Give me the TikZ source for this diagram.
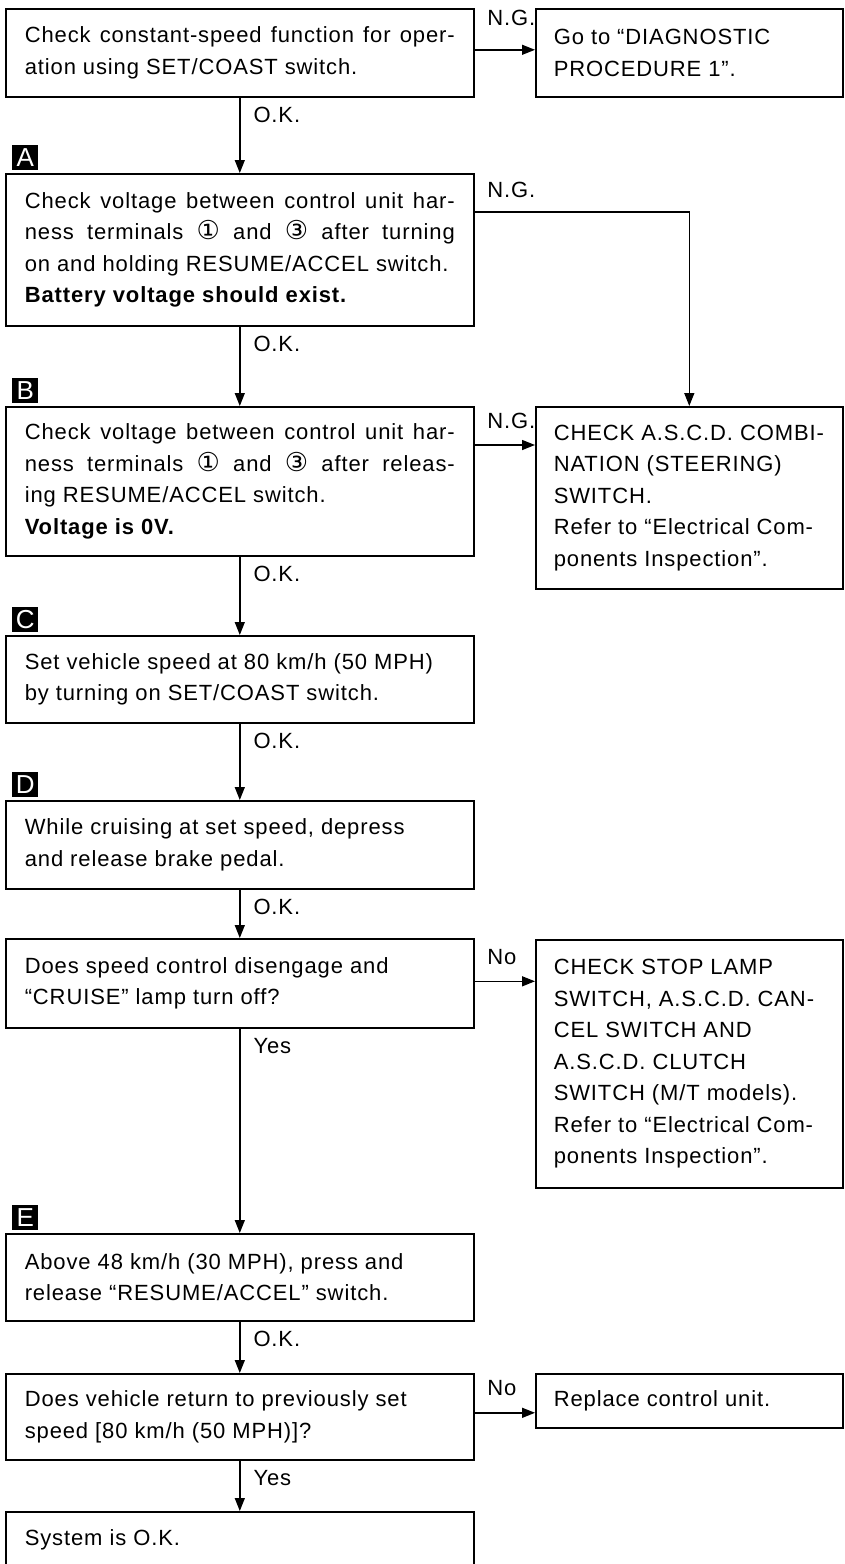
\documentclass[tikz,border=0pt]{standalone}
\usepackage{fontspec}
\usepackage{tikz}
\setmainfont{Liberation Sans}[LetterSpace=4]
\newfontfamily\circfont{DejaVu Sans}
\usetikzlibrary{arrows.meta,positioning}
\hyphenpenalty=10000
\exhyphenpenalty=10000
\newcommand{\term}[1]{{\circfont\fontsize{26}{26}\selectfont #1}}

\tikzset{
  stepbox/.style={draw, line width=1.6pt, align=justify, anchor=north west,
    text width=430pt, inner xsep=19pt, inner ysep=0pt,
    font=\fontsize{22}{31.5}\selectfont},
  sidebox/.style={stepbox, text width=271pt, inner xsep=18pt},
  tag/.style={fill=black, text=white, inner sep=0pt, minimum width=26pt,
    minimum height=25pt, font=\fontsize{26}{26}\selectfont},
  lbl/.style={font=\fontsize{22}{22}\selectfont, inner sep=0pt},
  flow/.style={line width=1.4pt, -{Triangle[length=13pt,width=10pt]}},
}

\begin{document}
\begin{tikzpicture}[x=1pt,y=-1pt]
  \useasboundingbox (0,0) rectangle (845,1564);

  % main column
  \node[stepbox, minimum height=88pt] (chk) at (5,8)
    {Check constant-speed function for oper-\linebreak ation using SET/COAST switch.};
  \node[stepbox, minimum height=152pt] (volton) at (5,173)
    {Check voltage between control unit har-\linebreak ness terminals \term{①} and \term{③} after turning\linebreak
     on and holding RESUME/ACCEL switch.\\ \textbf{Battery voltage should exist.}};
  \node[stepbox, minimum height=149pt] (voltoff) at (5,406)
    {Check voltage between control unit har-\linebreak ness terminals \term{①} and \term{③} after releas-\linebreak
     ing RESUME/ACCEL switch.\\ \textbf{Voltage is 0V.}};
  \node[stepbox, minimum height=87pt] (setspd) at (5,635)
    {Set vehicle speed at 80 km/h (50 MPH)\\ by turning on SET/COAST switch.};
  \node[stepbox, minimum height=88pt] (brake) at (5,800)
    {While cruising at set speed, depress\\ and release brake pedal.};
  \node[stepbox, minimum height=89pt] (disengage) at (5,938)
    {Does speed control disengage and\\ ``CRUISE'' lamp turn off?};
  \node[stepbox, minimum height=87pt] (resume) at (5,1233)
    {Above 48 km/h (30 MPH), press and\\ release ``RESUME/ACCEL'' switch.};
  \node[stepbox, minimum height=86pt] (return) at (5,1373)
    {Does vehicle return to previously set\\ speed [80 km/h (50 MPH)]?};
  \node[stepbox, minimum height=56pt] (sysok) at (5,1511)
    {System is O.K.};

  % side column
  \node[sidebox, minimum height=88pt] (goto) at (535,8)
    {Go to ``DIAGNOSTIC\\ PROCEDURE 1''.};
  \node[sidebox, minimum height=182pt] (ascd) at (535,406)
    {CHECK A.S.C.D. COMBI-\\ NATION (STEERING)\\ SWITCH.\\ Refer to ``Electrical Com-\\ ponents Inspection''.};
  \node[sidebox, minimum height=248pt] (stoplamp) at (535,939)
    {CHECK STOP LAMP\\ SWITCH, A.S.C.D. CAN-\\ CEL SWITCH AND\\ A.S.C.D. CLUTCH\\
     SWITCH (M/T models).\\ Refer to ``Electrical Com-\\ ponents Inspection''.};
  \node[sidebox, minimum height=54pt] (replace) at (535,1373)
    {Replace control unit.};

  % step letters
  \node[tag, above right=3pt and 7pt of volton.north west] (tagA) {A};
  \node[tag, above right=3pt and 7pt of voltoff.north west] (tagB) {B};
  \node[tag, above right=3pt and 7pt of setspd.north west] (tagC) {C};
  \node[tag, above right=3pt and 7pt of brake.north west] (tagD) {D};
  \node[tag, above right=3pt and 7pt of resume.north west] (tagE) {E};

  % down the main column
  \draw[flow] (chk) -- (volton) node[lbl, pos=0, below right=9pt and 13pt] (okchk) {O.K.};
  \draw[flow] (volton) -- (voltoff) node[lbl, pos=0, below right=9pt and 13pt] (okvon) {O.K.};
  \draw[flow] (voltoff) -- (setspd) node[lbl, pos=0, below right=9pt and 13pt] (okvoff) {O.K.};
  \draw[flow] (setspd) -- (brake) node[lbl, pos=0, below right=9pt and 13pt] (okspd) {O.K.};
  \draw[flow] (brake) -- (disengage) node[lbl, pos=0, below right=9pt and 13pt] (okbrake) {O.K.};
  \draw[flow] (disengage) -- (resume) node[lbl, pos=0, below right=9pt and 13pt] (yesdis) {Yes};
  \draw[flow] (resume) -- (return) node[lbl, pos=0, below right=9pt and 13pt] (okres) {O.K.};
  \draw[flow] (return) -- (sysok) node[lbl, pos=0, below right=9pt and 13pt] (yesret) {Yes};

  % branches to the side
  \coordinate (ngchk) at ([yshift=3pt]chk.east);
  \coordinate (ngvon) at ([yshift=-39pt]volton.north east);
  \coordinate (ngvoff) at ([yshift=-39pt]voltoff.north east);
  \coordinate (nodis) at ([yshift=2pt]disengage.east);
  \coordinate (noret) at ([yshift=4pt]return.east);
  \draw[flow] (ngchk) -- (ngchk -| goto.west) node[lbl, pos=0, above right=23pt and 12pt] (lngchk) {N.G.};
  \draw[flow] (ngvon) -| (ascd.north) node[lbl, pos=0, above right=14pt and 12pt] (lngvon) {N.G.};
  \draw[flow] (ngvoff) -- (ngvoff -| ascd.west) node[lbl, pos=0, above right=16pt and 12pt] (lngvoff) {N.G.};
  \draw[flow] (nodis) -- (nodis -| stoplamp.west) node[lbl, pos=0, above right=16pt and 12pt] (lnodis) {No};
  \draw[flow] (noret) -- (noret -| replace.west) node[lbl, pos=0, above right=16pt and 12pt] (lnoret) {No};
\end{tikzpicture}
\end{document}
